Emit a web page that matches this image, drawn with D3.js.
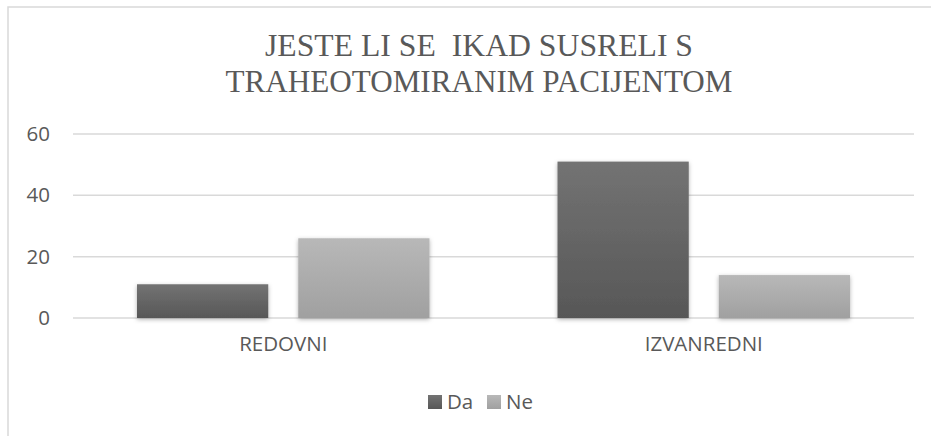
<!DOCTYPE html>
<html>
<head>
<meta charset="utf-8">
<script src="https://cdn.jsdelivr.net/npm/d3@7"></script>
<style>
  html, body { margin: 0; background: #fff; overflow: hidden; }
  svg { display: block; }
  .title { font-family: "Liberation Serif", "Times New Roman", "DejaVu Serif", serif; }
</style>
</head>
<body>
<svg width="931" height="436"></svg>
<script>
// data
var categories = ["REDOVNI", "IZVANREDNI"];
var series = ["Da", "Ne"];
var daValues = [11, 51];
var neValues = [26, 14];
var yTicks = [0, 20, 40, 60];
var titleLines = ["JESTE LI SE  IKAD SUSRELI S", "TRAHEOTOMIRANIM PACIJENTOM"];

var rows = categories.map((c, i) => ({ cat: c, Da: daValues[i], Ne: neValues[i] }));

var svg = d3.select("svg");
var textColor = "#595959";
var labelFont = "'Open Sans', sans-serif";

// gradients + soft shadow like the office chart
var defs = svg.append("defs");
var grads = { Da: ["#737373", "#575757"], Ne: ["#b8b8b8", "#a0a0a0"] };
series.forEach(s => {
  var g = defs.append("linearGradient")
      .attr("id", "grad-" + s)
      .attr("x1", 0).attr("y1", 0).attr("x2", 0).attr("y2", 1);
  g.append("stop").attr("offset", "0%").attr("stop-color", grads[s][0]);
  g.append("stop").attr("offset", "100%").attr("stop-color", grads[s][1]);
});
var f = defs.append("filter").attr("id", "shadow")
    .attr("x", "-10%").attr("y", "-10%").attr("width", "120%").attr("height", "125%");
f.append("feDropShadow")
    .attr("dx", 0).attr("dy", 1.5)
    .attr("stdDeviation", 2)
    .attr("flood-color", "#000")
    .attr("flood-opacity", 0.3);

// chart border: only top and left are inside the window
svg.append("path")
    .attr("d", "M8,436V7H931")
    .attr("fill", "none")
    .attr("stroke", "#d9d9d9")
    .attr("stroke-width", 1.5);

// title
var title = svg.append("text")
    .attr("class", "title")
    .attr("text-anchor", "middle")
    .attr("fill", textColor)
    .style("font-size", "32px")
    .style("white-space", "pre");
title.selectAll("tspan")
  .data(titleLines)
  .enter()
    .append("tspan")
    .attr("x", 479)
    .attr("y", (d, i) => 56 + i * 36)
    .attr("textLength", (d, i) => i === 0 ? 428 : 507)
    .attr("lengthAdjust", "spacingAndGlyphs")
    .text(d => d);

var x0 = d3.scaleBand()
    .domain(categories)
    .range([73, 914]);

var x1 = d3.scaleBand()
    .domain(series)
    .range([64, x0.bandwidth() - 64])
    .paddingInner(0.186);

var y = d3.scaleLinear()
    .domain([0, 60])
    .range([318, 134]);

// gridlines
svg.append("g")
  .selectAll("line")
  .data(yTicks)
  .enter()
    .append("line")
    .attr("x1", 73).attr("x2", 914)
    .attr("y1", d => y(d)).attr("y2", d => y(d))
    .attr("stroke", "#d9d9d9")
    .attr("stroke-width", 1.5);

// y axis labels
var yAxis = svg.append("g")
    .attr("transform", "translate(58,0)")
    .call(d3.axisLeft(y).tickValues(yTicks).tickSize(0).tickPadding(8));
yAxis.select(".domain").remove();
yAxis.selectAll("text")
    .attr("fill", textColor)
    .style("font-family", labelFont)
    .style("font-size", "20.5px");

// bars
svg.append("g")
  .selectAll("g")
  .data(rows)
  .enter()
    .append("g")
    .attr("transform", d => "translate(" + x0(d.cat) + ",0)")
  .selectAll("rect")
  .data(d => series.map(s => ({ key: s, value: d[s] })))
  .enter()
    .append("rect")
    .attr("x", d => x1(d.key))
    .attr("width", x1.bandwidth())
    .attr("y", d => y(d.value))
    .attr("height", d => y(0) - y(d.value))
    .attr("fill", d => "url(#grad-" + d.key + ")")
    .attr("filter", "url(#shadow)");

// category labels
var xAxis = svg.append("g")
    .attr("transform", "translate(0,318)")
    .call(d3.axisBottom(x0).tickSize(0).tickPadding(18));
xAxis.select(".domain").remove();
xAxis.selectAll("text")
    .attr("fill", textColor)
    .style("font-family", labelFont)
    .style("font-size", "20.5px");

// legend
var legendX = d3.scalePoint().domain(series).range([428, 487]);
var legend = svg.append("g")
  .selectAll("g")
  .data(series)
  .enter()
    .append("g")
    .attr("transform", d => "translate(" + legendX(d) + ",395)");
legend.append("rect")
    .attr("width", 14).attr("height", 14)
    .attr("fill", d => "url(#grad-" + d + ")");
legend.append("text")
    .attr("x", 19).attr("y", 14)
    .attr("fill", textColor)
    .style("font-family", labelFont)
    .style("font-size", "20.5px")
    .text(d => d);
</script>
</body>
</html>
